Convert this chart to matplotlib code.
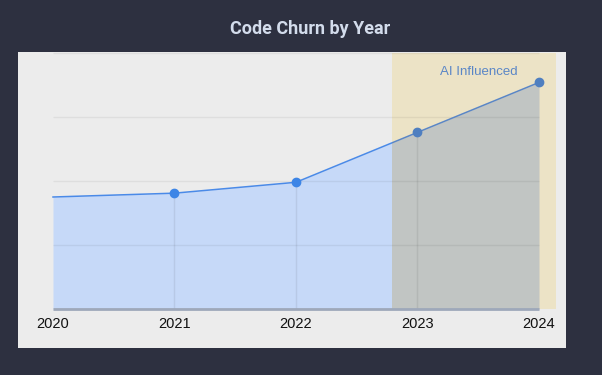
import matplotlib
matplotlib.use("Agg")
import matplotlib.pyplot as plt
from matplotlib.patches import Rectangle
import numpy as np

years = [2020, 2021, 2022, 2023, 2024]
churn = [3.5, 3.62, 3.96, 5.52, 7.08]
tick_labels = ["2020", "2021", "2022", "2023", "2024"]
ai_start, ai_end = 2022.79, 2024.14
ai_label = "AI Influenced"
title = "Code Churn by Year"
grid_vals = [0, 2, 4, 6, 8]

W, H = 602, 375
fig = plt.figure(figsize=(W/100, H/100), dpi=100)
fig.patch.set_facecolor("#2d3040")

def fx(px): return px / W
def fy(py): return 1 - py / H

# panel axes
L, R, T, B = 18, 566, 52, 348
ax = fig.add_axes([fx(L), fy(B), fx(R) - fx(L), fy(T) - fy(B)])
ax.set_facecolor("#ececec")
for s in ax.spines.values():
    s.set_visible(False)

ppy = (539 - 53) / 4.0
ax.set_xlim(2020 - (53 - L) / ppy, 2024 + (R - 539) / ppy)
ppv = (309 - 53) / 8.0
ax.set_ylim(-(B - 309) / ppv, 8 + (53 - T) / ppv)

# AI span
ax.add_patch(Rectangle((ai_start, 0), ai_end - ai_start, 8, facecolor="#ece3c6", edgecolor="none", zorder=1))

# gridlines
ax.hlines(grid_vals[1:], years[0], years[-1], colors=(0, 0, 0, 0.06), linewidth=1, zorder=4)

# fills with clip
left_clip = Rectangle((years[0] - 1, -1), ai_start - years[0] + 1, 20, transform=ax.transData)
right_clip = Rectangle((ai_start, -1), 5, 20, transform=ax.transData)

f1 = ax.fill_between(years, churn, 0, color="#c6d9f8", linewidth=0, zorder=2)
f1.set_clip_path(left_clip)
f2 = ax.fill_between(years, churn, 0, color="#c1c5c3", linewidth=0, zorder=2)
f2.set_clip_path(right_clip)

ax.vlines(years[1:-1], 0, churn[1:-1], colors=(0, 0, 0, 0.07), linewidth=1, zorder=3)

l1, = ax.plot(years, churn, color="#4a8ae8", linewidth=1.1, zorder=5)
l1.set_clip_path(left_clip)
l2, = ax.plot(years, churn, color="#5a86c6", linewidth=1.1, zorder=5)
l2.set_clip_path(right_clip)

mcols = ["none", "#3d85e6", "#3d85e6", "#4f7fc0", "#4f7fc0"]
for x, y, c in zip(years[1:], churn[1:], mcols[1:]):
    ax.plot([x], [y], "o", color=c, markersize=6, zorder=6, clip_on=False)

# baseline
ax.hlines([0], years[0], years[-1], colors="#9ea8ba", linewidth=2, zorder=5)

ax.set_xticks([])
ax.set_yticks([])
for x, lab in zip(years, tick_labels):
    ax.text(x, -0.47, lab, ha="center", va="center", fontsize=10.5,
            family="Liberation Sans", color="#111111")

ax.text(2023.506, 7.4, ai_label, ha="center", va="center",
        fontsize=9.5, family="Liberation Sans", color="#5a86c6")

fig.text(fx(310), fy(29), title, ha="center", va="center", fontsize=13,
         fontweight="bold", family="Roboto", color="#d3dcec")

fig.savefig("out.png", dpi=100, facecolor=fig.get_facecolor())
